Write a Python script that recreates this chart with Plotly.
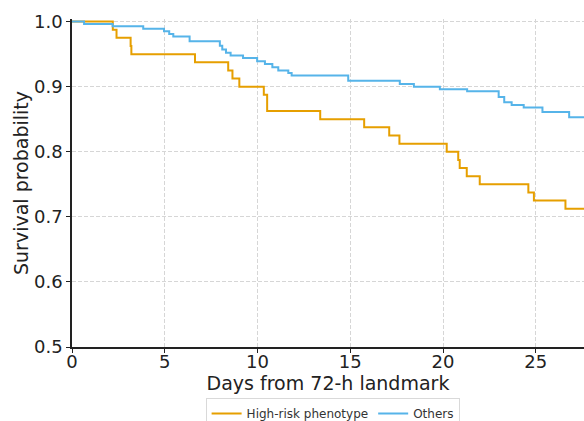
import plotly.graph_objects as go

# High-risk phenotype (Kaplan-Meier step estimates)
hr_days = [0, 2.2, 2.4, 3.16, 3.2, 6.63, 8.42, 8.65, 9.02, 10.34, 10.52, 13.38,
           15.75, 17.1, 17.65, 20.2, 20.82, 20.9, 21.28, 21.98, 24.6, 24.9, 26.6, 28.0]
hr_surv = [1.0, 0.9875, 0.975, 0.9625, 0.95, 0.9375, 0.925, 0.9125, 0.9, 0.8875, 0.8625, 0.85,
           0.8375, 0.825, 0.8125, 0.8, 0.7875, 0.775, 0.7625, 0.75, 0.7375, 0.725, 0.7125, 0.7125]

# Others
ot_days = [0, 0.65, 2.19, 3.84, 4.96, 5.24, 5.46, 6.34, 7.97, 8.1, 8.3, 8.55, 9.22, 9.98,
           10.4, 10.8, 11.12, 11.66, 11.84, 14.89, 17.67, 18.43, 19.83, 21.3, 23.0, 23.3,
           23.7, 24.35, 25.36, 26.8, 28.0]
ot_surv = [1.0, 0.9965, 0.993, 0.989, 0.985, 0.981, 0.977, 0.970, 0.963, 0.957, 0.952, 0.948,
           0.944, 0.939, 0.935, 0.930, 0.925, 0.921, 0.917, 0.909, 0.904, 0.900, 0.896, 0.893,
           0.884, 0.876, 0.872, 0.868, 0.861, 0.853, 0.853]

x_ticks = [0, 5, 10, 15, 20, 25]
y_ticks = [0.5, 0.6, 0.7, 0.8, 0.9, 1.0]

fig = go.Figure()
fig.add_trace(go.Scatter(x=hr_days, y=hr_surv, mode="lines", line_shape="hv",
                         name="High-risk phenotype", line=dict(color="#E69F00", width=2)))
fig.add_trace(go.Scatter(x=ot_days, y=ot_surv, mode="lines", line_shape="hv",
                         name="Others", line=dict(color="#56B4E9", width=2)))

font = "DejaVu Sans"
grid = dict(showgrid=True, gridcolor="#d6d6d6", griddash="4px,2px", gridwidth=1)
fig.update_layout(
    width=584, height=421,
    margin=dict(l=72, r=0, t=19, b=74),
    paper_bgcolor="white", plot_bgcolor="white",
    font=dict(family=font, color="#222222", size=18),
    legend=dict(orientation="h", x=0.509, xanchor="center", yref="container",
                y=(421 - 398) / 421, yanchor="top",
                bordercolor="#d9d9d9", borderwidth=1, font=dict(size=12, color="#333333"),
                itemwidth=30, tracegroupgap=0),
    xaxis=dict(range=[0, 27.6], tickvals=x_ticks, **grid, showline=True,
               linecolor="#222222", linewidth=1.5, automargin=False,
               ticks="outside", ticklen=4, tickcolor="#222222", zeroline=False,
               ticklabelstandoff=-6,
               title=dict(text="Days from 72-h landmark", font=dict(size=19), standoff=2)),
    yaxis=dict(range=[0.5, 1.004], tickvals=y_ticks, tickformat=".1f", **grid,
               showline=True, automargin=False,
               linecolor="#222222", linewidth=1.5, ticks="outside", ticklen=4,
               tickcolor="#222222", zeroline=False,
               title=dict(text="Survival probability", font=dict(size=19), standoff=0)),
)

fig.write_html("out.html", config={"displayModeBar": False},
               post_script="document.body.style.margin='0';document.body.style.overflow='hidden';")
